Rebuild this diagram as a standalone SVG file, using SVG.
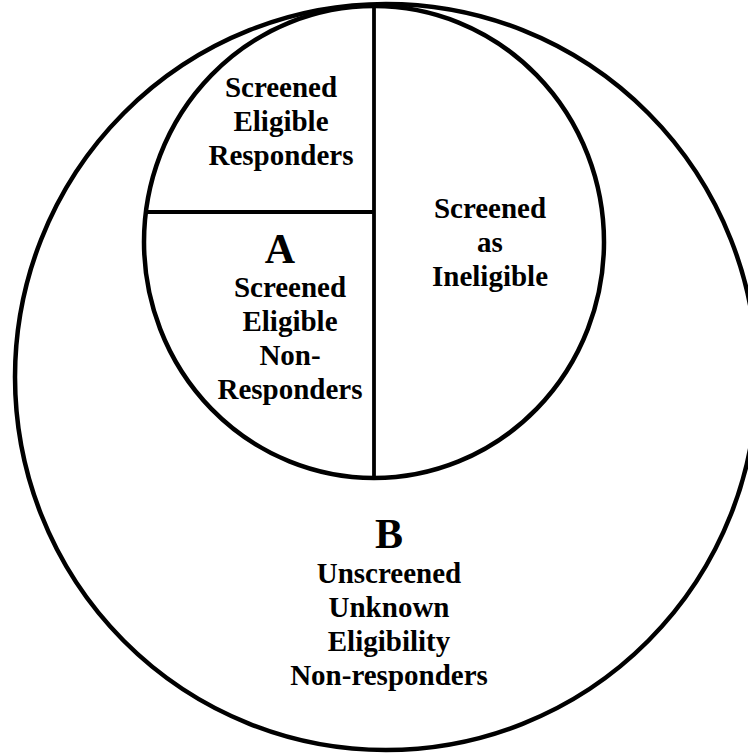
<svg xmlns="http://www.w3.org/2000/svg" width="748" height="754" viewBox="0 0 748 754">
<style>
.shape{fill:none;stroke:#000;stroke-width:4.5}
.line{fill:none;stroke:#000;stroke-width:3.8}
text{font-family:"Liberation Serif","Times New Roman",serif;font-weight:bold;fill:#000;text-anchor:middle}
.lbl{font-size:29px}
.big{font-size:42px}
</style>
<rect width="748" height="754" fill="#fff"/>
<g id="outer">
<ellipse class="shape" cx="386" cy="377" rx="371" ry="373"/>
</g>
<g id="inner">
<ellipse class="shape" cx="374" cy="242" rx="230" ry="236"/>
</g>
<g id="connectors">
<line class="line" x1="374" y1="6" x2="374" y2="478"/>
<line class="line" x1="146" y1="212" x2="374" y2="212"/>
</g>
<g id="responders">
<text class="lbl" x="281" y="97">Screened</text>
<text class="lbl" x="281" y="131">Eligible</text>
<text class="lbl" x="281" y="165">Responders</text>
</g>
<g id="ineligible">
<text class="lbl" x="490" y="218">Screened</text>
<text class="lbl" x="490" y="252">as</text>
<text class="lbl" x="490" y="286">Ineligible</text>
</g>
<g id="A">
<text class="big" x="280" y="263">A</text>
<text class="lbl" x="290" y="297">Screened</text>
<text class="lbl" x="290" y="331">Eligible</text>
<text class="lbl" x="290" y="365">Non-</text>
<text class="lbl" x="290" y="399">Responders</text>
</g>
<g id="B">
<text class="big" x="389" y="548">B</text>
<text class="lbl" x="389" y="583">Unscreened</text>
<text class="lbl" x="389" y="617">Unknown</text>
<text class="lbl" x="389" y="651">Eligibility</text>
<text class="lbl" x="389" y="685">Non-responders</text>
</g>
</svg>
